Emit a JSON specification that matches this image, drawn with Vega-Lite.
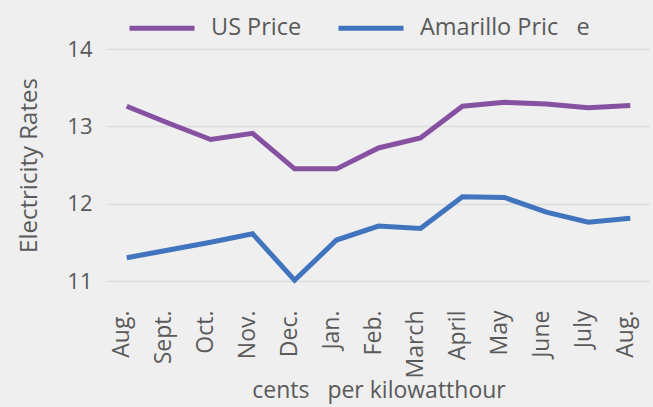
{
  "$schema": "https://vega.github.io/schema/vega-lite/v6.json",
  "autosize": "none",
  "width": 543,
  "height": 232,
  "padding": {"left": 107, "top": 49, "right": 3, "bottom": 126},
  "background": "#efefef",
  "config": {
    "font": "Open Sans",
    "view": {"stroke": null}
  },
  "data": {
    "values": [
      {"i": 0, "month": "Aug.", "series": "US Price", "rate": 13.26},
      {"i": 1, "month": "Sept.", "series": "US Price", "rate": 13.04},
      {"i": 2, "month": "Oct.", "series": "US Price", "rate": 12.83},
      {"i": 3, "month": "Nov.", "series": "US Price", "rate": 12.91},
      {"i": 4, "month": "Dec.", "series": "US Price", "rate": 12.45},
      {"i": 5, "month": "Jan.", "series": "US Price", "rate": 12.45},
      {"i": 6, "month": "Feb.", "series": "US Price", "rate": 12.72},
      {"i": 7, "month": "March", "series": "US Price", "rate": 12.85},
      {"i": 8, "month": "April", "series": "US Price", "rate": 13.26},
      {"i": 9, "month": "May", "series": "US Price", "rate": 13.31},
      {"i": 10, "month": "June", "series": "US Price", "rate": 13.29},
      {"i": 11, "month": "July", "series": "US Price", "rate": 13.24},
      {"i": 12, "month": "Aug. ", "series": "US Price", "rate": 13.27},
      {"i": 0, "month": "Aug.", "series": "Amarillo Pric\u00a0\u00a0\u00a0e", "rate": 11.3},
      {"i": 1, "month": "Sept.", "series": "Amarillo Pric\u00a0\u00a0\u00a0e", "rate": 11.4},
      {"i": 2, "month": "Oct.", "series": "Amarillo Pric\u00a0\u00a0\u00a0e", "rate": 11.5},
      {"i": 3, "month": "Nov.", "series": "Amarillo Pric\u00a0\u00a0\u00a0e", "rate": 11.61},
      {"i": 4, "month": "Dec.", "series": "Amarillo Pric\u00a0\u00a0\u00a0e", "rate": 11.01},
      {"i": 5, "month": "Jan.", "series": "Amarillo Pric\u00a0\u00a0\u00a0e", "rate": 11.53},
      {"i": 6, "month": "Feb.", "series": "Amarillo Pric\u00a0\u00a0\u00a0e", "rate": 11.71},
      {"i": 7, "month": "March", "series": "Amarillo Pric\u00a0\u00a0\u00a0e", "rate": 11.68},
      {"i": 8, "month": "April", "series": "Amarillo Pric\u00a0\u00a0\u00a0e", "rate": 12.09},
      {"i": 9, "month": "May", "series": "Amarillo Pric\u00a0\u00a0\u00a0e", "rate": 12.08},
      {"i": 10, "month": "June", "series": "Amarillo Pric\u00a0\u00a0\u00a0e", "rate": 11.89},
      {"i": 11, "month": "July", "series": "Amarillo Pric\u00a0\u00a0\u00a0e", "rate": 11.76},
      {"i": 12, "month": "Aug. ", "series": "Amarillo Pric\u00a0\u00a0\u00a0e", "rate": 11.81}
    ]
  },
  "mark": {"type": "line", "strokeWidth": 5},
  "encoding": {
    "x": {
      "field": "month",
      "type": "ordinal",
      "sort": {"field": "i"},
      "scale": {"type": "point", "padding": 0.47},
      "axis": {
        "title": "cents\u00a0\u00a0 per kilowatthour",
        "titleFontSize": 23,
        "titleFontWeight": "normal",
        "titleColor": "#5a5a5a",
        "titlePadding": 2,
        "labelAngle": -90,
        "labelFontSize": 23,
        "labelColor": "#5a5a5a",
        "labelPadding": 29,
        "labelOffset": -5,
        "domain": false,
        "ticks": false,
        "grid": false
      }
    },
    "y": {
      "field": "rate",
      "type": "quantitative",
      "scale": {"domain": [11, 14], "nice": false, "zero": false},
      "axis": {
        "title": "Electricity Rates",
        "titleFontSize": 24,
        "titleFontWeight": "normal",
        "titleColor": "#5a5a5a",
        "titlePadding": 25,
        "values": [11, 11.5, 12, 12.5, 13, 13.5, 14],
        "format": "d",
        "labelExpr": "datum.value % 1 === 0 ? datum.label : ''",
        "labelFontSize": 22,
        "labelColor": "#5a5a5a",
        "labelPadding": 15,
        "domain": false,
        "ticks": false,
        "gridColor": "#dcdcdc",
        "gridWidth": 1.5
      }
    },
    "color": {
      "field": "series",
      "type": "nominal",
      "sort": ["US Price", "Amarillo Pric\u00a0\u00a0\u00a0e"],
      "scale": {"domain": ["US Price", "Amarillo Pric\u00a0\u00a0\u00a0e"], "range": ["#8651a1", "#4074be"]},
      "legend": {
        "title": null,
        "orient": "none",
        "legendX": 20,
        "legendY": -56,
        "direction": "horizontal",
        "symbolType": "stroke",
        "symbolSize": 4225,
        "symbolStrokeWidth": 5,
        "labelFontSize": 23.5,
        "labelColor": "#5a5a5a",
        "labelOffset": 14,
        "labelLimit": 400,
        "columnPadding": 26
      }
    }
  }
}
